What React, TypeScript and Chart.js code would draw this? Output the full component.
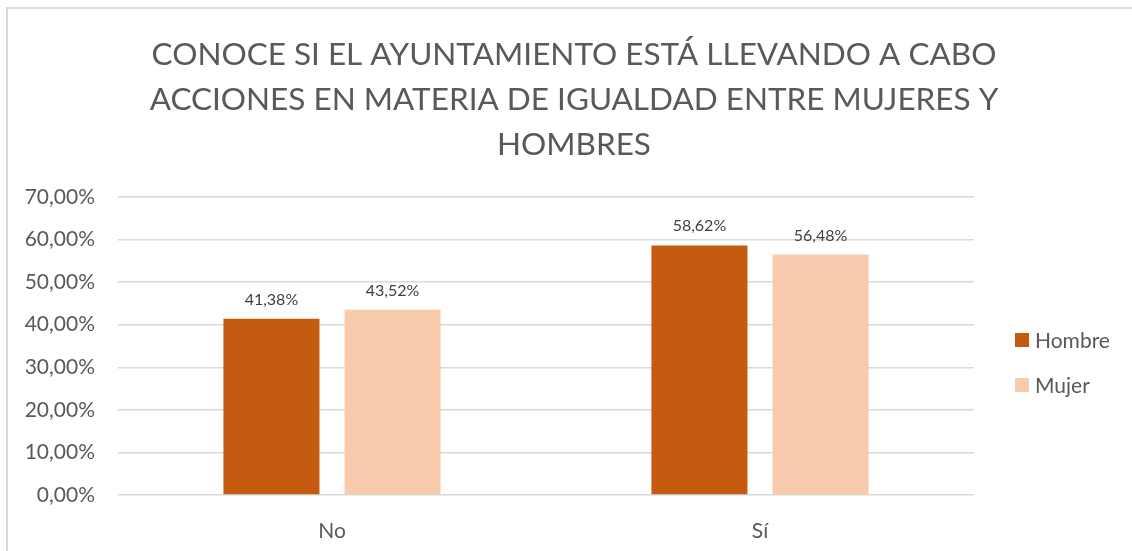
import React, { useEffect, useRef } from "react";
import { Chart, registerables } from "chart.js";

Chart.register(...registerables);

const titleLines = [
  "CONOCE SI EL AYUNTAMIENTO ESTÁ LLEVANDO A CABO",
  "ACCIONES EN MATERIA DE IGUALDAD ENTRE MUJERES Y",
  "HOMBRES",
];
const categories = ["No", "Sí"];
const hombreValues = [41.38, 58.62];
const mujerValues = [43.52, 56.48];
const seriesNames = ["Hombre", "Mujer"];
const seriesColors = ["#C55A11", "#F8CBAD"];
const yMax = 70;
const yStep = 10;

const FONT = "Lato, 'Open Sans', sans-serif";

const fmt = (v: number) => v.toFixed(2).replace(".", ",") + "%";

const decorPlugin = {
  id: "decor",
  beforeDraw(chart: any) {
    const ctx = chart.ctx;
    ctx.save();
    ctx.fillStyle = "#ffffff";
    ctx.fillRect(0, 0, chart.width, chart.height);
    ctx.strokeStyle = "#d9d9d9";
    ctx.lineWidth = 2;
    ctx.strokeRect(7, 8, chart.width + 20, chart.height + 20);
    ctx.restore();
  },
  afterDraw(chart: any) {
    const ctx = chart.ctx;
    ctx.save();
    // title
    ctx.fillStyle = "#595959";
    ctx.font = `31.5px ${FONT}`;
    ctx.textAlign = "center";
    ctx.textBaseline = "alphabetic";
    const baselines = [65, 110, 155];
    titleLines.forEach((t, i) => ctx.fillText(t, 574, baselines[i]));
    // legend
    ctx.font = `21px ${FONT}`;
    ctx.textAlign = "left";
    ctx.textBaseline = "middle";
    seriesNames.forEach((n, i) => {
      const y = 340 + i * 45;
      ctx.fillStyle = seriesColors[i];
      ctx.fillRect(1015, y - 7, 14, 14);
      ctx.fillStyle = "#595959";
      ctx.fillText(n, 1035, y + 1);
    });
    // data labels
    ctx.font = `16px ${FONT}`;
    ctx.fillStyle = "#404040";
    ctx.textAlign = "center";
    ctx.textBaseline = "alphabetic";
    chart.data.datasets.forEach((ds: any, di: number) => {
      const meta = chart.getDatasetMeta(di);
      meta.data.forEach((bar: any, i: number) => {
        ctx.fillText(fmt(ds.data[i]), bar.x, bar.y - 14);
      });
    });
    ctx.restore();
  },
};

export default function App() {
  const ref = useRef<HTMLCanvasElement | null>(null);
  useEffect(() => {
    if (!ref.current) return;
    const chart = new Chart(ref.current, {
      type: "bar",
      data: {
        labels: categories,
        datasets: [
          {
            label: seriesNames[0],
            data: hombreValues,
            backgroundColor: seriesColors[0],
            categoryPercentage: 0.566,
            barPercentage: 0.793,
          },
          {
            label: seriesNames[1],
            data: mujerValues,
            backgroundColor: seriesColors[1],
            categoryPercentage: 0.566,
            barPercentage: 0.793,
          },
        ],
      },
      options: {
        responsive: false,
        animation: false,
        layout: { padding: { top: 197, right: 158, left: 0, bottom: 0 } },
        plugins: {
          legend: { display: false },
          title: { display: false },
          tooltip: { enabled: false },
        },
        scales: {
          x: {
            grid: { display: false },
            border: { display: false },
            ticks: {
              color: "#595959",
              font: { family: FONT, size: 21 },
              padding: 16,
            },
            afterFit(scale: any) {
              scale.height = 56;
            },
          },
          y: {
            min: 0,
            max: yMax,
            ticks: {
              stepSize: yStep,
              color: "#595959",
              font: { family: FONT, size: 21 },
              padding: 23,
              callback: (v: any) => fmt(Number(v)),
            },
            grid: { color: "#d9d9d9", lineWidth: 1.5, drawTicks: false },
            border: { display: false },
            afterFit(scale: any) {
              scale.width = 118;
            },
          },
        },
      },
      plugins: [decorPlugin],
    });
    return () => chart.destroy();
  }, []);
  return (
    <div style={{ position: "fixed", left: 0, top: 0, width: 1132, height: 551 }}>
      <canvas ref={ref} width={1132} height={551} />
    </div>
  );
}
